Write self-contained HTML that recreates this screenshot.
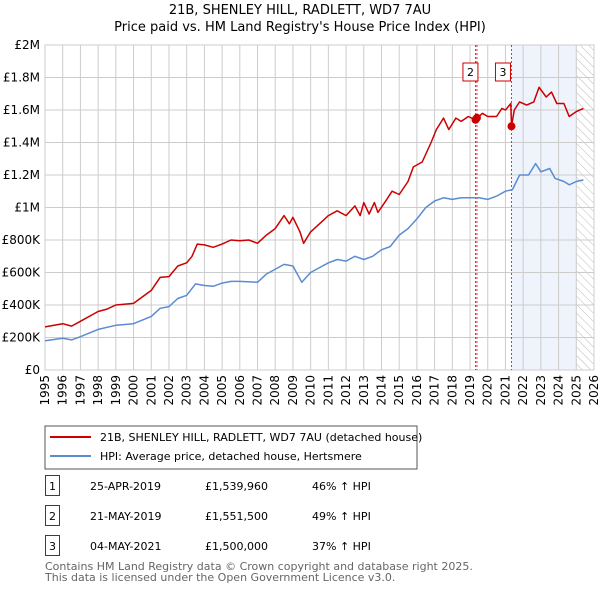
<!DOCTYPE html>
<html><head><meta charset="utf-8"><style>
body{margin:0;background:#fff;font-family:"Liberation Sans","DejaVu Sans",sans-serif;}
svg text{font-family:"DejaVu Sans","Liberation Sans",sans-serif;}
</style></head><body>
<svg id="c" width="600" height="590" xmlns="http://www.w3.org/2000/svg">
<text x="300" y="14" text-anchor="middle" font-size="13" fill="#000">21B, SHENLEY HILL, RADLETT, WD7 7AU</text>
<text x="300" y="31" text-anchor="middle" font-size="13" fill="#000">Price paid vs. HM Land Registry's House Price Index (HPI)</text>
<defs><pattern id="hatch" width="6" height="6" patternUnits="userSpaceOnUse" patternTransform="rotate(-45)"><line x1="0" y1="0" x2="0" y2="6" stroke="#bbb" stroke-width="1"/></pattern></defs>
<g id="plot"></g>
<rect x="45" y="426" width="372" height="43" fill="none" stroke="#555"/>
<line x1="50" y1="437" x2="91" y2="437" stroke="#cc0000" stroke-width="2"/>
<text x="100" y="441" font-size="11">21B, SHENLEY HILL, RADLETT, WD7 7AU (detached house)</text>
<line x1="50" y1="456" x2="91" y2="456" stroke="#5b8bd0" stroke-width="2"/>
<text x="100" y="460" font-size="11">HPI: Average price, detached house, Hertsmere</text>
<g font-size="11">
<rect x="45.5" y="475.5" width="14" height="20" fill="none" stroke="#cc0000"/><text x="52.5" y="490" text-anchor="middle">1</text>
<text x="90" y="490">25-APR-2019</text><text x="205" y="490">£1,539,960</text><text x="312" y="490">46% ↑ HPI</text>
<rect x="45.5" y="505.5" width="14" height="20" fill="none" stroke="#cc0000"/><text x="52.5" y="520" text-anchor="middle">2</text>
<text x="90" y="520">21-MAY-2019</text><text x="205" y="520">£1,551,500</text><text x="312" y="520">49% ↑ HPI</text>
<rect x="45.5" y="535.5" width="14" height="20" fill="none" stroke="#cc0000"/><text x="52.5" y="550" text-anchor="middle">3</text>
<text x="90" y="550">04-MAY-2021</text><text x="205" y="550">£1,500,000</text><text x="312" y="550">37% ↑ HPI</text>
</g>
<text x="45" y="570" font-size="11" fill="#666">Contains HM Land Registry data © Crown copyright and database right 2025.</text>
<text x="45" y="581" font-size="11" fill="#666">This data is licensed under the Open Government Licence v3.0.</text>
</svg>
<script>
const yTicks=[0,200,400,600,800,1000,1200,1400,1600,1800,2000];
const yTickLabels=["£0","£200K","£400K","£600K","£800K","£1M","£1.2M","£1.4M","£1.6M","£1.8M","£2M"];
const years=[1995,1996,1997,1998,1999,2000,2001,2002,2003,2004,2005,2006,2007,2008,2009,2010,2011,2012,2013,2014,2015,2016,2017,2018,2019,2020,2021,2022,2023,2024,2025,2026];
const redT=[1995,1996,1996.5,1997,1998,1998.5,1999,2000,2000.5,2001,2001.5,2002,2002.5,2003,2003.3,2003.6,2004,2004.5,2005,2005.5,2006,2006.5,2007,2007.5,2008,2008.5,2008.8,2009,2009.4,2009.6,2010,2010.5,2011,2011.5,2012,2012.5,2012.8,2013,2013.3,2013.6,2013.8,2014.3,2014.6,2015,2015.5,2015.8,2016.3,2016.8,2017.1,2017.5,2017.8,2018.2,2018.5,2018.9,2019.3,2019.7,2020,2020.5,2020.8,2021,2021.3,2021.34,2021.5,2021.8,2022.2,2022.6,2022.9,2023.3,2023.6,2023.9,2024.3,2024.6,2025,2025.4];
const redV=[265,285,270,300,360,375,400,410,450,490,570,575,640,660,700,775,770,755,775,800,795,800,780,830,870,950,900,940,850,780,850,900,950,980,950,1010,950,1030,960,1030,970,1050,1100,1080,1160,1250,1280,1400,1480,1550,1480,1550,1530,1560,1540,1580,1560,1560,1610,1600,1640,1500,1600,1650,1630,1650,1740,1680,1710,1640,1640,1560,1590,1610];
const blueT=[1995,1996,1996.5,1997,1998,1999,2000,2001,2001.5,2002,2002.5,2003,2003.5,2004,2004.5,2005,2005.5,2006,2007,2007.5,2008.5,2009,2009.5,2010,2010.5,2011,2011.5,2012,2012.5,2013,2013.5,2014,2014.5,2015,2015.5,2016,2016.5,2017,2017.5,2018,2018.5,2019,2019.5,2020,2020.5,2021,2021.4,2021.8,2022.3,2022.7,2023,2023.5,2023.8,2024.3,2024.6,2025,2025.4];
const blueV=[180,195,185,205,250,275,285,330,380,390,440,460,530,520,515,535,545,545,540,590,650,640,540,600,630,660,680,670,700,680,700,740,760,830,870,930,1000,1040,1060,1050,1060,1060,1060,1050,1070,1100,1110,1200,1200,1270,1220,1240,1180,1160,1140,1160,1170];
const saleT=[2019.31,2019.39,2021.34];
const saleV=[1540,1551.5,1500];
const saleLabels=["1","2","3"];
const NS="http://www.w3.org/2000/svg";
const L=45,R=594,T=45,B=370;
const xs=t=>L+(t-1995)/(2026-1995)*(R-L);
const ys=v=>B-v/2000*(B-T);
const g=document.getElementById('plot');
function mk(tag,attrs,parent){const e=document.createElementNS(NS,tag);for(const k in attrs)e.setAttribute(k,attrs[k]);(parent||g).appendChild(e);return e;}
let e;
e=mk('rect',{x:xs(saleT[2]),y:T,width:xs(2025)-xs(saleT[2]),height:B-T,fill:'#eef3fc'});


e=mk('rect',{x:xs(2025),y:T,width:R-xs(2025),height:B-T,fill:'url(#hatch)'});


years.forEach((y,i)=>{
 e=mk('line',{x1:xs(y),x2:xs(y),y1:T,y2:B,stroke:'#ccc','stroke-width':1});
 
 
 const tx=xs(y)+4, ty=B+5;
 e=mk('text',{x:tx,y:ty,'text-anchor':'end','font-size':12,transform:'rotate(-90 '+tx+' '+ty+')'});
 e.textContent=y;
 
 
});
yTicks.forEach((v,i)=>{
 e=mk('line',{x1:L,x2:R,y1:ys(v),y2:ys(v),stroke:'#ccc','stroke-width':1});
 
 
 e=mk('text',{x:L-5,y:ys(v)+4,'text-anchor':'end','font-size':12});
 e.textContent=yTickLabels[i];
 
 
});
e=mk('rect',{x:L,y:T,width:R-L,height:B-T,fill:'none',stroke:'#ccc'});


saleT.forEach((t,i)=>{
 e=mk('line',{x1:xs(t),x2:xs(t),y1:T,y2:B,stroke:'#e03030','stroke-width':1,'stroke-dasharray':'2,2'});
 
 
});
function path(ts,vs,col,name){
 const d=ts.map((t,i)=>(i?'L':'M')+xs(t).toFixed(1)+','+ys(vs[i]).toFixed(1)).join('');
 e=mk('path',{d:d,fill:'none',stroke:col,'stroke-width':1.5,'stroke-linejoin':'round'});
 
 
}
path(blueT,blueV,'#5b8bd0','hpi-line');
path(redT,redV,'#cc0000','property-price-line');
saleT.forEach((t,i)=>{
 e=mk('circle',{cx:xs(t),cy:ys(saleV[i]),r:4,fill:'#cc0000'});
 
 
 if(i===0)return;
 const bx=xs(t)-(i<2?7:9), by=63;
 e=mk('rect',{x:bx-7,y:by,width:15,height:18,fill:'#fff',stroke:'#cc0000'});
 
 
 e=mk('text',{x:bx+0.5,y:by+13,'text-anchor':'middle','font-size':11});
 e.textContent=saleLabels[i];
 
 
});
</script>
</body></html>
